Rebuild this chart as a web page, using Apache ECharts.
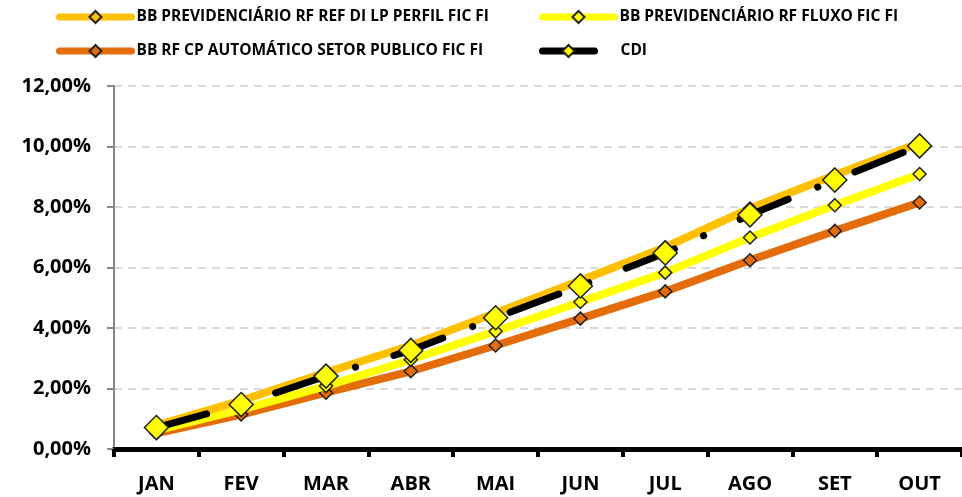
<!DOCTYPE html>
<html>
<head>
<meta charset="utf-8">
<script src="https://cdn.jsdelivr.net/npm/echarts@6/dist/echarts.min.js"></script>
<style>
  html, body { margin: 0; padding: 0; background: #fff; }
  #chart { width: 962px; height: 497px; }
</style>
</head>
<body>
<div id="chart"></div>
<script>
// meses
const months = ["JAN", "FEV", "MAR", "ABR", "MAI", "JUN", "JUL", "AGO", "SET", "OUT"];

// rentabilidade acumulada (%)
const perfil = [0.78, 1.6, 2.53, 3.42, 4.5, 5.57, 6.67, 7.95, 9.06, 10.12];
const fluxo = [0.62, 1.3, 2.08, 2.95, 3.89, 4.86, 5.83, 6.99, 8.06, 9.09];
const automatico = [0.52, 1.14, 1.86, 2.57, 3.42, 4.31, 5.21, 6.24, 7.21, 8.15];
const cdi = [0.71, 1.47, 2.41, 3.26, 4.34, 5.39, 6.48, 7.74, 8.89, 10.02];

const yTicks = [0, 2, 4, 6, 8, 10, 12];

const names = {
  perfil: "BB PREVIDENCIÁRIO RF REF DI LP PERFIL FIC FI",
  fluxo: "BB PREVIDENCIÁRIO RF FLUXO FIC FI",
  automatico: "BB RF CP AUTOMÁTICO SETOR PUBLICO FIC FI",
  cdi: "CDI",
};

const font = "Open Sans";
const legendFont = { fontFamily: font, fontWeight: "bold", fontSize: 15.5, color: "#000" };

function legendAt(name, left, top, extra) {
  return Object.assign({
    data: [name],
    left: left,
    top: top,
    itemWidth: 72,
    itemHeight: 15,
    textStyle: legendFont,
    lineStyle: { width: 7, cap: "round" },
  }, extra || {});
}

let chart = echarts.init(document.getElementById("chart"));

let option = {
  animation: false,
  backgroundColor: "#fff",
  legend: [
    legendAt(names.perfil, 51, 4),
    legendAt(names.fluxo, 534, 4),
    legendAt(names.automatico, 51, 38),
    legendAt(names.cdi, 534, 38, {
      itemWidth: 52,
      textStyle: Object.assign({}, legendFont, { padding: [0, 0, 0, 21] }),
    }),
  ],
  grid: {
    left: 114,
    top: 86,
    width: 850,
    height: 363,
  },
  xAxis: {
    type: "category",
    data: months,
    boundaryGap: true,
    axisLine: { lineStyle: { color: "#000", width: 5 } },
    axisTick: { show: true, length: 8, lineStyle: { color: "#000", width: 4 } },
    axisLabel: {
      fontFamily: font,
      fontWeight: "bold",
      fontSize: 20,
      color: "#000",
      margin: 25,
    },
  },
  yAxis: {
    type: "value",
    min: yTicks[0],
    max: yTicks[yTicks.length - 1],
    interval: 2,
    axisLine: { show: true, lineStyle: { color: "#868686", width: 2 } },
    axisTick: { show: true, length: 7, lineStyle: { color: "#868686", width: 2 } },
    splitLine: { lineStyle: { color: "#d9d9d9", width: 2, type: [8, 6] } },
    axisLabel: {
      fontFamily: font,
      fontWeight: "bold",
      fontSize: 20,
      color: "#000",
      margin: 23,
      formatter: (v) => v.toFixed(2).replace(".", ",") + "%",
    },
  },
  series: [
    {
      name: names.automatico,
      type: "line",
      data: automatico,
      symbol: "diamond",
      symbolSize: 13,
      color: "#E46C0A",
      lineStyle: { color: "#E46C0A", width: 8 },
      itemStyle: { color: "#E46C0A", borderColor: "#222", borderWidth: 1.5 },
      z: 2,
    },
    {
      name: names.fluxo,
      type: "line",
      data: fluxo,
      symbol: "diamond",
      symbolSize: 13,
      color: "#FFFF00",
      lineStyle: { color: "#FFFF00", width: 8 },
      itemStyle: { color: "#FFFF00", borderColor: "#222", borderWidth: 1.5 },
      z: 3,
    },
    {
      name: names.perfil,
      type: "line",
      data: perfil,
      symbol: "diamond",
      symbolSize: 13,
      color: "#FFC000",
      lineStyle: { color: "#FFC000", width: 8 },
      itemStyle: { color: "#FFC000", borderColor: "#222", borderWidth: 1.5 },
      z: 4,
    },
    {
      name: names.cdi,
      type: "line",
      data: cdi,
      symbol: "diamond",
      symbolSize: 24,
      color: "#000",
      lineStyle: { color: "#000", width: 7, type: [52, 32, 0.1, 40], cap: "round" },
      itemStyle: { color: "#FFFF00", borderColor: "#222", borderWidth: 1.5 },
      z: 5,
    },
  ],
};

chart.setOption(option);
window.onresize = function () {
  chart.resize();
};
</script>
</body>
</html>
